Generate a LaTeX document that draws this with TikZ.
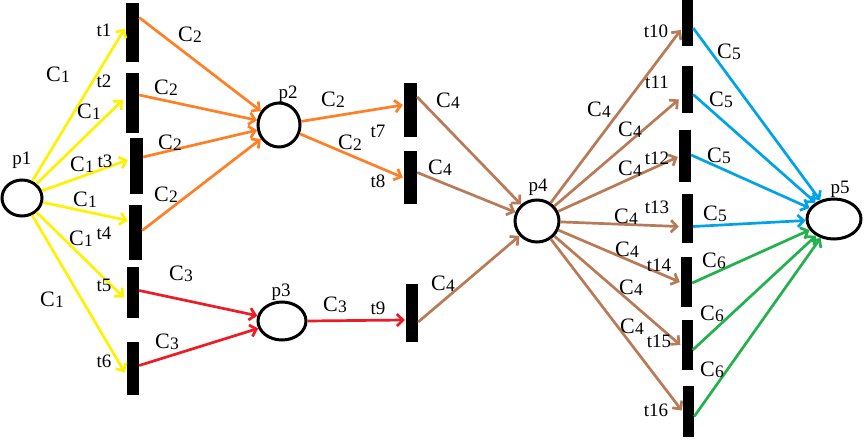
\documentclass[tikz,border=0pt]{standalone}
\usepackage{fontspec}
\setmainfont{Liberation Serif}
\usetikzlibrary{arrows.meta,shapes.geometric,calc}
\definecolor{pyellow}{HTML}{FFF200}
\definecolor{porange}{HTML}{FF7F27}
\definecolor{pred}{HTML}{ED1C24}
\definecolor{pbrown}{HTML}{B97A57}
\definecolor{pblue}{HTML}{00A2E8}
\definecolor{pgreen}{HTML}{22B14C}
\newcommand{\CC}[1]{{\fontsize{22}{22}\selectfont C}\kern0.3pt\raisebox{-0.8pt}{\fontsize{17.5}{17.5}\selectfont #1}}
\tikzset{
  bar/.style={fill=black, draw=none, inner sep=0pt, minimum width=12pt},
  place/.style={ellipse, draw=black, line width=3pt, fill=white, inner sep=0pt},
  arc/.style={line width=2.7pt, -{Straight Barb[length=6pt,width=12pt]}},
  lab/.style={inner sep=0pt, font=\fontsize{19}{19}\selectfont},
  clab/.style={inner sep=0pt}
}
\begin{document}
\begin{tikzpicture}[x=1pt,y=-1pt]
\useasboundingbox (0,0) rectangle (865,441);
% places
\node[place, minimum width=40pt, minimum height=36pt] (p1) at (22,198) {};
\node[place, minimum width=42pt, minimum height=44pt] (p2) at (279,125) {};
\node[place, minimum width=48pt, minimum height=38pt] (p3) at (282,321) {};
\node[place, minimum width=44pt, minimum height=42pt] (p4) at (537,221) {};
\node[place, minimum width=54pt, minimum height=40pt] (p5) at (834,219) {};
% transitions
\node[bar, minimum width=13pt, minimum height=59pt] (t1) at (132.5,32.5) {};
\node[bar, minimum width=13pt, minimum height=60pt] (t2) at (132.5,103) {};
\node[bar, minimum width=13pt, minimum height=56pt] (t3) at (136.5,166) {};
\node[bar, minimum width=13pt, minimum height=55pt] (t4) at (135.5,232.5) {};
\node[bar, minimum height=51pt] (t5) at (133,292.5) {};
\node[bar, minimum height=53pt] (t6) at (133,368.5) {};
\node[bar, minimum width=13pt, minimum height=54pt] (t7) at (410.5,110) {};
\node[bar, minimum width=13pt, minimum height=53pt] (t8) at (410.5,177.5) {};
\node[bar, minimum height=58pt] (t9) at (412,313) {};
\node[bar, minimum width=11pt, minimum height=47pt] (t10) at (687.5,23) {};
\node[bar, minimum width=11pt, minimum height=47pt] (t11) at (687.5,89.5) {};
\node[bar, minimum width=12pt, minimum height=52pt] (t12) at (685,156) {};
\node[bar, minimum width=11pt, minimum height=49pt] (t13) at (687.5,218.5) {};
\node[bar, minimum width=11pt, minimum height=50pt] (t14) at (686.5,282) {};
\node[bar, minimum width=11pt, minimum height=50pt] (t15) at (687,345) {};
\node[bar, minimum width=11pt, minimum height=51pt] (t16) at (688.5,411.5) {};
% yellow p1 -> t1..t6
\begin{scope}[every path/.style={arc, draw=pyellow}]
\draw (p1) -- ($(t1.west)+(-1,-4)$);
\draw (p1) -- ($(t2.west)+(-3,-3)$);
\draw (p1) -- ($(t3.west)+(-2,-6)$);
\draw (p1) -- ($(t4.west)+(-1,-12)$);
\draw (p1) -- ($(t5.west)+(-3,5)$);
\draw (p1) -- ($(t6.west)+(-2,4)$);
\end{scope}
% orange
\begin{scope}[every path/.style={arc, draw=porange}]
\draw ($(t1.east)+(0,-15)$) -- (p2);
\draw ($(t2.east)+(0,-8)$) -- (p2);
\draw ($(t3.east)+(0,-9)$) -- (p2);
\draw ($(t4.east)+(0,-2)$) -- (p2);
\draw (p2) -- ($(t7.west)+(-1,-5)$);
\draw (p2) -- ($(t8.west)+(-1,0)$);
\end{scope}
% red
\begin{scope}[every path/.style={arc, draw=pred}]
\draw ($(t5.east)+(0,-2)$) -- (p3);
\draw ($(t6.east)+(0,-3)$) -- (p3);
\draw (p3.east) -- ($(t9.west)+(-1,7)$);
\end{scope}
% brown
\begin{scope}[every path/.style={arc, draw=pbrown}]
\draw ($(t7.east)+(0,-13)$) -- (p4);
\draw ($(t8.east)+(0,-5)$) -- (p4);
\draw ($(t9.east)+(0,9)$) -- (p4);
\draw (p4) -- ($(t10.west)+(-1,7)$);
\draw (p4) -- ($(t11.west)+(-3,10)$);
\draw (p4) -- ($(t12.west)+(-1,1)$);
\draw (p4) -- ($(t13.west)+(-3,8)$);
\draw (p4) -- ($(t14.west)+(-1,0)$);
\draw (p4) -- ($(t15.west)+(-1,0)$);
\draw (p4) -- ($(t16.west)+(-1,-1)$);
\end{scope}
% blue
\begin{scope}[every path/.style={arc, draw=pblue}]
\draw ($(t10.east)+(0,5)$) -- (p5);
\draw ($(t11.east)+(0,5)$) -- (p5);
\draw ($(t12.east)+(0,-1)$) -- (p5);
\draw ($(t13.east)+(0,8)$) -- (p5);
\end{scope}
% green
\begin{scope}[every path/.style={arc, draw=pgreen}]
\draw ($(t14.east)+(0,1)$) -- (p5);
\draw ($(t15.east)+(0,5)$) -- (p5);
\draw ($(t16.east)+(0,5)$) -- (p5);
\end{scope}
% place labels
\node[lab] (lp1) at (22,160) {p1};
\node[lab] (lp2) at (288,94) {p2};
\node[lab] (lp3) at (281,292) {p3};
\node[lab] (lp4) at (538,187) {p4};
\node[lab] (lp5) at (840,189) {p5};
% transition labels
\node[lab] (lt1) at (104,30) {t1};
\node[lab] (lt2) at (104,81) {t2};
\node[lab] (lt3) at (105,161) {t3};
\node[lab] (lt4) at (104,233) {t4};
\node[lab] (lt5) at (104,285) {t5};
\node[lab] (lt6) at (104,361) {t6};
\node[lab] (lt7) at (378,131) {t7};
\node[lab] (lt8) at (378,181) {t8};
\node[lab] (lt9) at (378,308) {t9};
\node[lab] (lt10) at (656,31) {t10};
\node[lab] (lt11) at (657,82) {t11};
\node[lab] (lt12) at (657,158) {t12};
\node[lab] (lt13) at (657,207) {t13};
\node[lab] (lt14) at (659,265) {t14};
\node[lab] (lt15) at (659,341) {t15};
\node[lab] (lt16) at (656,410) {t16};
% colour labels
\node[clab] (c1a) at (58,75) {\CC{1}};
\node[clab] (c1b) at (89,112) {\CC{1}};
\node[clab] (c1c) at (82,165) {\CC{1}};
\node[clab] (c1d) at (85,200) {\CC{1}};
\node[clab] (c1e) at (81,239) {\CC{1}};
\node[clab] (c1f) at (52,300) {\CC{1}};
\node[clab] (c2a) at (190,35) {\CC{2}};
\node[clab] (c2b) at (166,88) {\CC{2}};
\node[clab] (c2c) at (170,143) {\CC{2}};
\node[clab] (c2d) at (166,195) {\CC{2}};
\node[clab] (c2e) at (333,100) {\CC{2}};
\node[clab] (c2f) at (350,143) {\CC{2}};
\node[clab] (c3a) at (181,274) {\CC{3}};
\node[clab] (c3b) at (167,342) {\CC{3}};
\node[clab] (c3c) at (335,305) {\CC{3}};
\node[clab] (c4a) at (448,101) {\CC{4}};
\node[clab] (c4b) at (440,168) {\CC{4}};
\node[clab] (c4c) at (443,284) {\CC{4}};
\node[clab] (c4d) at (599,110) {\CC{4}};
\node[clab] (c4e) at (630,130) {\CC{4}};
\node[clab] (c4f) at (630,169) {\CC{4}};
\node[clab] (c4g) at (626,217) {\CC{4}};
\node[clab] (c4h) at (627,250) {\CC{4}};
\node[clab] (c4i) at (631,288) {\CC{4}};
\node[clab] (c4j) at (632,327) {\CC{4}};
\node[clab] (c5a) at (729,52) {\CC{5}};
\node[clab] (c5b) at (721,100) {\CC{5}};
\node[clab] (c5c) at (719,156) {\CC{5}};
\node[clab] (c5d) at (715,214) {\CC{5}};
\node[clab] (c6a) at (714,261) {\CC{6}};
\node[clab] (c6b) at (712,314) {\CC{6}};
\node[clab] (c6c) at (712,370) {\CC{6}};
\end{tikzpicture}
\end{document}
